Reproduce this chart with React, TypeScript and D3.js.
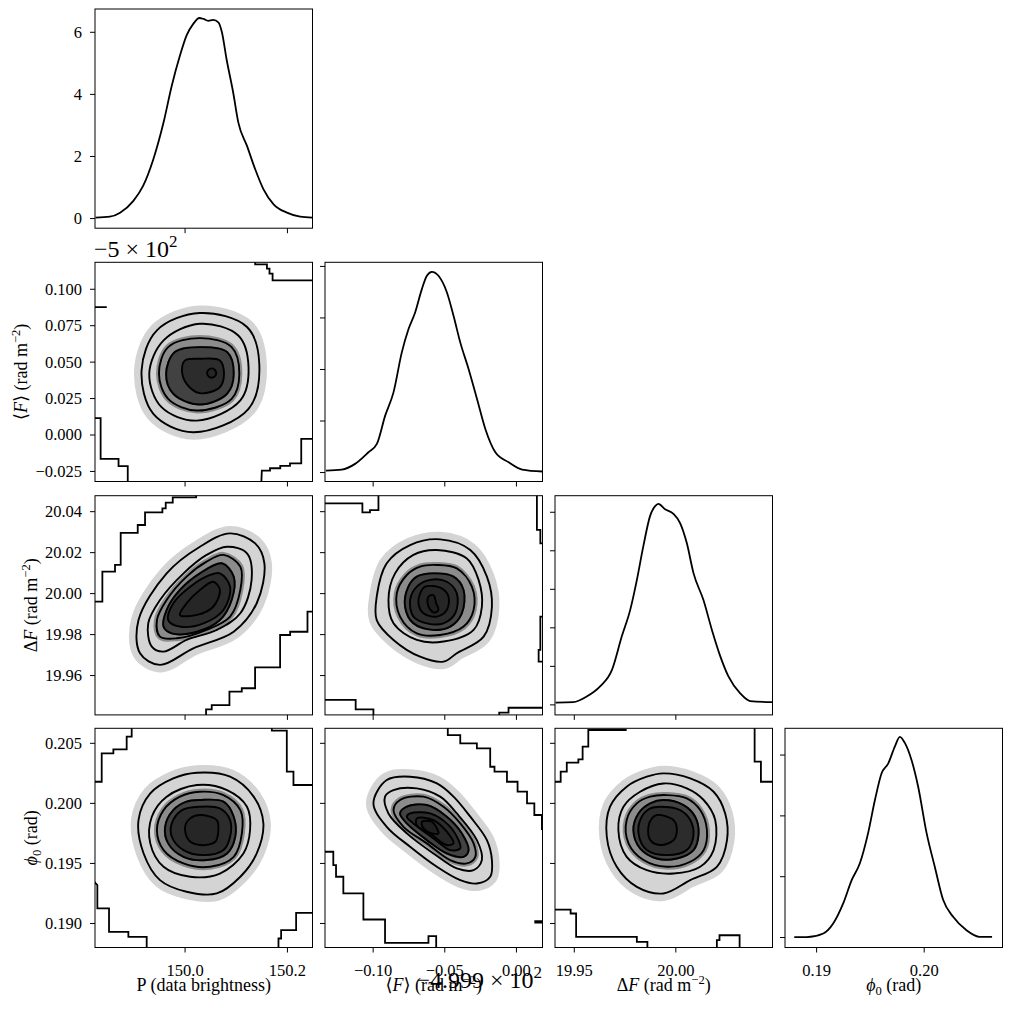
import React from 'react';
import * as d3 from 'd3';

type Pt = [number, number];

// ---------------- grid layout ----------------
const COL_X = [95, 325, 555, 785];
const ROW_Y = [9, 262.3, 495.7, 728.3];
const PW = 217.5;
const PH = 219.2;
const FONT = "Liberation Serif, DejaVu Serif, serif";

// ---------------- axis domains ----------------
// ⟨F⟩ is stored relative to −500 (the offset shown on its y axis)
const P_DOMAIN = [149.824, 150.249];
const F_X_DOMAIN = [-0.0336, 0.1182];
const F_Y_DOMAIN = [-0.0319, 0.1185];
const DF_X_DOMAIN = [19.9405, 20.0476];
const DF_Y_DOMAIN = [19.9408, 20.0478];
const PHI_X_DOMAIN = [0.18706, 0.20728];
const PHI_Y_DOMAIN = [0.188, 0.20625];
const DENS_P_DOMAIN = [-0.31, 6.75];
const DENS_F_DOMAIN = [-0.87, 20.4];
const DENS_DF_DOMAIN = [-1.3, 27.15];
const DENS_PHI_DOMAIN = [-8.2, 172];

// ---------------- ticks ----------------
const P_TICKS = [150.0, 150.2];
const P_TICK_LABELS = ['150.0', '150.2'];
const F_X_TICKS = [0.0, 0.05, 0.1];
const F_X_TICK_LABELS = ['−0.10', '−0.05', '0.00'];
const F_Y_TICKS = [-0.025, 0, 0.025, 0.05, 0.075, 0.1];
const F_Y_TICK_LABELS = ['−0.025', '0.000', '0.025', '0.050', '0.075', '0.100'];
const DF_X_TICKS = [19.95, 20.0];
const DF_X_TICK_LABELS = ['19.95', '20.00'];
const DF_Y_TICKS = [19.96, 19.98, 20.0, 20.02, 20.04];
const DF_Y_TICK_LABELS = ['19.96', '19.98', '20.00', '20.02', '20.04'];
const PHI_X_TICKS = [0.19, 0.2];
const PHI_X_TICK_LABELS = ['0.19', '0.20'];
const PHI_Y_TICKS = [0.19, 0.195, 0.2, 0.205];
const PHI_Y_TICK_LABELS = ['0.190', '0.195', '0.200', '0.205'];
const DENS_P_TICKS = [0, 2, 4, 6];
const DENS_P_TICK_LABELS = ['0', '2', '4', '6'];
const DENS_F_TICKS = [0, 5, 10, 15, 20];
const DENS_DF_TICKS = [0, 5, 10, 15, 20, 25];
const DENS_PHI_TICKS = [0, 50, 100, 150];

// ---------------- 1D marginal densities ----------------
const P_DENS_X = [149.825, 149.853, 149.873, 149.899, 149.918, 149.938, 149.958, 149.974, 149.99, 150.003, 150.016, 150.028, 150.036, 150.045, 150.055, 150.065, 150.072, 150.081, 150.094, 150.104, 150.121, 150.137, 150.153, 150.173, 150.199, 150.225, 150.249];
const P_DENS_Y = [0.03, 0.06, 0.19, 0.57, 1.05, 1.91, 3.1, 4.28, 5.25, 5.9, 6.27, 6.46, 6.43, 6.37, 6.4, 6.32, 6.0, 5.14, 4.06, 3.1, 2.34, 1.59, 0.95, 0.46, 0.19, 0.06, 0.03];

const F_DENS_X = [-0.0329, -0.0219, -0.0126, -0.0033, 0.0026, 0.0084, 0.0142, 0.02, 0.0247, 0.0293, 0.034, 0.0375, 0.041, 0.0456, 0.0515, 0.0561, 0.0608, 0.0666, 0.0725, 0.0783, 0.0853, 0.0946, 0.104, 0.1182];
const F_DENS_Y = [0.19, 0.29, 0.84, 1.97, 2.78, 5.52, 7.78, 11.66, 13.92, 15.53, 17.8, 19.09, 19.48, 19.09, 17.47, 15.21, 12.63, 10.05, 7.14, 4.23, 1.97, 1.0, 0.29, 0.1];

const DF_DENS_X = [19.9408, 19.9495, 19.9561, 19.9627, 19.9685, 19.9734, 19.9775, 19.9808, 19.984, 19.9873, 19.9898, 19.9914, 19.9947, 19.9988, 20.0021, 20.0054, 20.0087, 20.0136, 20.0178, 20.0219, 20.0259, 20.0317, 20.0366, 20.0476];
const DF_DENS_Y = [0.3, 0.35, 1.08, 2.4, 4.5, 8.9, 12.3, 16.2, 20.6, 24.5, 25.8, 26.1, 25.4, 24.8, 23.6, 21.0, 17.1, 13.6, 9.7, 6.3, 3.7, 1.5, 0.5, 0.35];

const PHI_DENS_X = [0.18792, 0.18907, 0.19062, 0.19154, 0.19247, 0.19325, 0.19402, 0.19479, 0.19542, 0.19604, 0.19665, 0.19727, 0.19774, 0.1982, 0.19882, 0.19944, 0.20022, 0.20099, 0.20176, 0.20269, 0.20393, 0.20517, 0.20631];
const PHI_DENS_Y = [0.25, 0.25, 3.3, 11.5, 28, 47, 61, 86, 113, 135, 143, 157, 165, 160, 146, 124, 86, 58, 31, 17, 6, 0.5, 0.5];

// ---------------- 2D contour levels (outermost first) ----------------
const RINGS_P_F: Pt[][] = [
  [[149.915, 0.0443], [149.945, 0.0718], [150.029, 0.0837], [150.121, 0.0741], [150.145, 0.0489], [150.124, 0.018], [150.016, 0.0019], [149.938, 0.0145]],
  [[149.93, 0.042], [149.958, 0.0649], [150.029, 0.0763], [150.104, 0.0683], [150.124, 0.0466], [150.108, 0.0237], [150.023, 0.0099], [149.954, 0.0191]],
  [[149.949, 0.042], [149.967, 0.0603], [150.029, 0.0665], [150.091, 0.0603], [150.106, 0.042], [150.091, 0.0248], [150.023, 0.0168], [149.967, 0.0248]],
  [[149.963, 0.042], [149.98, 0.0569], [150.029, 0.0603], [150.082, 0.0569], [150.095, 0.042], [150.082, 0.0283], [150.029, 0.0209], [149.977, 0.0283]],
  [[149.994, 0.0443], [150.0, 0.0512], [150.029, 0.0523], [150.068, 0.0512], [150.076, 0.042], [150.068, 0.0328], [150.029, 0.0287], [150.003, 0.0351]],
  [[150.061, 0.0425], [150.058, 0.0448], [150.052, 0.0457], [150.046, 0.0448], [150.043, 0.0425], [150.046, 0.0402], [150.052, 0.0393], [150.058, 0.0402]],
];

const RINGS_P_DF: Pt[][] = [
  [[150.088, 20.0294], [150.137, 20.0245], [150.155, 20.0148], [150.14, 19.9953], [150.095, 19.9814], [150.016, 19.9733], [149.951, 19.9652], [149.912, 19.9709], [149.909, 19.9871], [149.964, 20.0099], [150.029, 20.0229]],
  [[150.082, 20.0229], [150.121, 20.0197], [150.13, 20.0067], [150.108, 19.9904], [150.062, 19.9823], [150.003, 19.9774], [149.958, 19.9717], [149.935, 19.9741], [149.928, 19.9855], [149.951, 19.9969], [149.997, 20.0099], [150.042, 20.0189]],
  [[150.075, 20.0189], [150.108, 20.0132], [150.108, 20.0018], [150.088, 19.9888], [150.042, 19.9823], [149.984, 19.9782], [149.951, 19.979], [149.945, 19.9871], [149.964, 19.9969], [150.003, 20.0083], [150.042, 20.0156]],
  [[150.072, 20.0148], [150.095, 20.0083], [150.091, 19.9969], [150.068, 19.9871], [150.023, 19.9814], [149.974, 19.9806], [149.958, 19.9839], [149.964, 19.992], [149.99, 20.0018], [150.029, 20.0099]],
  [[150.068, 20.0099], [150.088, 20.0034], [150.075, 19.992], [150.036, 19.9855], [149.99, 19.9839], [149.967, 19.9871], [149.977, 19.9953], [150.01, 20.0034], [150.049, 20.0091]],
  [[150.055, 20.0058], [150.068, 20.0018], [150.055, 19.9936], [150.023, 19.9896], [149.99, 19.9896], [150.003, 19.9953], [150.029, 20.0018]],
];

const RINGS_F_DF: Pt[][] = [
  [[0.0468, 20.0265], [0.0678, 20.0213], [0.0794, 20.0083], [0.0829, 19.9936], [0.0771, 19.979], [0.0584, 19.9709], [0.0491, 19.9668], [0.0328, 19.9692], [0.0142, 19.9774], [0.0025, 19.9871], [0.0025, 19.9985], [0.0095, 20.0148], [0.0258, 20.0237]],
  [[0.0445, 20.0213], [0.0654, 20.0172], [0.0736, 20.0067], [0.0759, 19.9936], [0.0701, 19.9823], [0.0491, 19.9766], [0.0305, 19.9774], [0.0142, 19.9855], [0.0107, 19.9969], [0.0153, 20.0099], [0.0281, 20.0189]],
  [[0.0445, 20.014], [0.0584, 20.0123], [0.0689, 20.0034], [0.0701, 19.992], [0.0631, 19.9839], [0.0468, 19.9798], [0.0305, 19.9806], [0.0188, 19.9888], [0.0165, 20.0001], [0.0235, 20.0091], [0.0328, 20.0132]],
  [[0.0421, 20.0099], [0.0561, 20.0083], [0.0631, 20.0018], [0.0619, 19.9904], [0.0538, 19.9839], [0.0421, 19.9823], [0.0281, 19.9855], [0.0223, 19.9936], [0.0246, 20.0034], [0.0305, 20.0083]],
  [[0.0398, 20.0067], [0.0514, 20.0058], [0.0584, 20.0001], [0.0573, 19.9904], [0.0491, 19.9855], [0.0375, 19.9855], [0.0281, 19.9888], [0.0258, 19.9969], [0.0305, 20.0034]],
  [[0.0363, 20.0034], [0.0479, 20.0026], [0.0526, 19.9985], [0.0514, 19.992], [0.0445, 19.9888], [0.0351, 19.9904], [0.0316, 19.9953], [0.0328, 20.0001]],
  [[0.0386, 19.9985], [0.0421, 19.9993], [0.044, 19.9953], [0.0456, 19.992], [0.0426, 19.9907], [0.0393, 19.9928], [0.0379, 19.9961]],
];

const RINGS_P_PHI: Pt[][] = [
  [[150.023, 0.20255], [150.088, 0.20222], [150.134, 0.20056], [150.153, 0.19833], [150.14, 0.19583], [150.108, 0.19389], [150.062, 0.1925], [150.003, 0.19264], [149.951, 0.19361], [149.919, 0.19583], [149.909, 0.19861], [149.932, 0.20083], [149.977, 0.20208]],
  [[150.023, 0.20153], [150.082, 0.20111], [150.121, 0.19972], [150.127, 0.19778], [150.114, 0.19583], [150.068, 0.19416], [150.01, 0.19389], [149.958, 0.19472], [149.932, 0.19667], [149.935, 0.19889], [149.964, 0.20056]],
  [[150.029, 0.20097], [150.075, 0.20069], [150.108, 0.19944], [150.111, 0.1975], [150.095, 0.19555], [150.049, 0.19472], [149.997, 0.195], [149.958, 0.19611], [149.945, 0.19778], [149.958, 0.19944], [149.99, 0.20056]],
  [[150.029, 0.20028], [150.075, 0.20014], [150.095, 0.19889], [150.098, 0.19722], [150.082, 0.19583], [150.042, 0.19528], [149.997, 0.19555], [149.967, 0.19667], [149.961, 0.19805], [149.977, 0.19944], [150.003, 0.20014]],
  [[150.029, 0.19972], [150.068, 0.19958], [150.088, 0.19861], [150.088, 0.19722], [150.075, 0.19611], [150.036, 0.19569], [149.997, 0.19611], [149.974, 0.19722], [149.974, 0.19833], [149.994, 0.19944]],
  [[150.029, 0.19903], [150.062, 0.19861], [150.065, 0.19778], [150.059, 0.1968], [150.029, 0.19653], [150.007, 0.19694], [150.0, 0.19805], [150.01, 0.19875]],
];

const RINGS_F_PHI: Pt[][] = [
  [[0.0095, 0.20194], [0.0258, 0.20222], [0.0445, 0.20166], [0.0561, 0.20056], [0.0678, 0.19889], [0.0794, 0.19694], [0.0829, 0.19528], [0.0817, 0.19389], [0.0724, 0.19333], [0.0608, 0.19361], [0.0445, 0.19472], [0.0258, 0.19639], [0.0095, 0.19805], [0.0002, 0.2]],
  [[0.0142, 0.20111], [0.0305, 0.20125], [0.0468, 0.20056], [0.0584, 0.19916], [0.0724, 0.19694], [0.0759, 0.19528], [0.0701, 0.19444], [0.0584, 0.19458], [0.0421, 0.19583], [0.0235, 0.1975], [0.0107, 0.19916], [0.0083, 0.20056]],
  [[0.0188, 0.20028], [0.0351, 0.20056], [0.0491, 0.19972], [0.0608, 0.19833], [0.0701, 0.19667], [0.0713, 0.19555], [0.0654, 0.195], [0.0538, 0.19528], [0.0375, 0.19667], [0.0212, 0.19805], [0.0142, 0.19944]],
  [[0.0235, 0.19972], [0.0375, 0.19986], [0.0514, 0.19889], [0.0619, 0.1975], [0.0666, 0.19611], [0.0631, 0.19555], [0.0514, 0.19583], [0.0375, 0.19694], [0.0235, 0.19833], [0.0188, 0.19916]],
  [[0.0258, 0.19916], [0.0398, 0.19916], [0.0526, 0.19819], [0.0596, 0.19694], [0.0608, 0.19625], [0.0538, 0.19611], [0.0421, 0.19708], [0.0281, 0.19833], [0.0235, 0.19889]],
  [[0.0305, 0.19875], [0.0421, 0.19861], [0.0514, 0.19764], [0.0561, 0.19667], [0.0514, 0.19653], [0.041, 0.19736], [0.0305, 0.19819]],
  [[0.034, 0.19847], [0.041, 0.19847], [0.0445, 0.19791], [0.0456, 0.1975], [0.041, 0.1975], [0.0363, 0.19778], [0.034, 0.19819]],
];

const RINGS_DF_PHI: Pt[][] = [
  [[19.9939, 0.2025], [20.0071, 0.20208], [20.0186, 0.20097], [20.0243, 0.19916], [20.0252, 0.19694], [20.0202, 0.19472], [20.0071, 0.19361], [19.9939, 0.1925], [19.9808, 0.19305], [19.9709, 0.19472], [19.966, 0.19722], [19.9676, 0.19972], [19.9758, 0.20139], [19.9857, 0.20222]],
  [[19.9939, 0.20166], [20.0054, 0.20125], [20.0137, 0.20028], [20.0194, 0.19861], [20.0186, 0.19611], [20.012, 0.19472], [19.9989, 0.19416], [19.9857, 0.19444], [19.9758, 0.19555], [19.9717, 0.19778], [19.9742, 0.19972], [19.9824, 0.20097]],
  [[19.9956, 0.20069], [20.0054, 0.20042], [20.012, 0.19944], [20.0153, 0.19778], [20.0137, 0.19611], [20.0071, 0.19514], [19.9956, 0.19472], [19.9841, 0.19528], [19.9767, 0.19667], [19.9758, 0.19861], [19.9808, 0.2], [19.9874, 0.20056]],
  [[19.9939, 0.20028], [20.0038, 0.19986], [20.0095, 0.19889], [20.0112, 0.1975], [20.0087, 0.19611], [20.0005, 0.19541], [19.9906, 0.19541], [19.9824, 0.19625], [19.9791, 0.19778], [19.9816, 0.19916], [19.9874, 0.2]],
  [[19.9923, 0.19972], [20.0021, 0.19944], [20.0071, 0.19861], [20.0087, 0.19736], [20.0054, 0.19611], [19.9956, 0.19569], [19.9857, 0.19611], [19.9816, 0.1975], [19.9832, 0.19889], [19.9874, 0.19958]],
  [[19.9906, 0.19903], [19.9989, 0.19861], [20.0005, 0.19778], [19.9989, 0.19694], [19.9923, 0.19653], [19.9874, 0.19694], [19.9865, 0.19805], [19.9882, 0.19875]],
];

// ---------------- lowest-level histogram outlines (stepped) ----------------
const STEPS_P_F: Pt[][] = [
  [[150.137, 0.119], [150.137, 0.1171], [150.16, 0.1171], [150.16, 0.1141], [150.165, 0.1141], [150.165, 0.1107], [150.171, 0.1107], [150.171, 0.1061], [150.25, 0.1061]],
  [[149.82, 0.0878], [149.847, 0.0878]],
  [[149.82, 0.0116], [149.835, 0.0116], [149.835, -0.0164], [149.87, -0.0164], [149.87, -0.0214], [149.888, -0.0214], [149.888, -0.033]],
  [[150.149, -0.033], [150.15, -0.0244], [150.166, -0.0244], [150.166, -0.0228], [150.186, -0.0228], [150.186, -0.0212], [150.205, -0.0212], [150.205, -0.0194], [150.227, -0.0194], [150.227, -0.0026], [150.25, -0.0026]],
];
const STEPS_P_DF: Pt[][] = [
  [[149.82, 19.9961], [149.8384, 19.9961], [149.8384, 20.0107], [149.8631, 20.0107], [149.8631, 20.014], [149.8742, 20.014], [149.8742, 20.0297], [149.9075, 20.0297], [149.9075, 20.0335], [149.9218, 20.0335], [149.9218, 20.0397], [149.9557, 20.0397], [149.9557, 20.0416], [149.9622, 20.0416], [149.9622, 20.0444], [149.9759, 20.0444], [149.9759, 20.047], [150.0215, 20.047], [150.0215, 20.049]],
  [[150.25, 19.9912], [150.2392, 19.9912], [150.2392, 19.9814], [150.2053, 19.9814], [150.2053, 19.9798], [150.1857, 19.9798], [150.1857, 19.964], [150.1368, 19.964], [150.1368, 19.9538], [150.1108, 19.9538], [150.1108, 19.9522], [150.0867, 19.9522], [150.0867, 19.9456], [150.0521, 19.9456], [150.0521, 19.9435], [150.041, 19.9435], [150.041, 19.94]],
];
const STEPS_F_DF: Pt[][] = [
  [[-0.034, 20.0441], [-0.0075, 20.0441], [-0.0075, 20.0397], [-0.0022, 20.0397], [-0.0022, 20.0408], [0.0037, 20.0408], [0.0037, 20.049]],
  [[0.1143, 20.049], [0.1143, 20.0311], [0.1167, 20.0311], [0.1167, 20.0245], [0.119, 20.0245]],
  [[0.119, 19.9888], [0.1167, 19.9888], [0.1167, 19.9725], [0.1155, 19.9725], [0.1155, 19.9668], [0.119, 19.9668]],
  [[-0.034, 19.9481], [-0.0122, 19.9481], [-0.0122, 19.9435], [0.0002, 19.9435], [0.0002, 19.94]],
  [[0.088, 19.94], [0.088, 19.9419], [0.0945, 19.9419], [0.0945, 19.9443], [0.119, 19.9443]],
];
const STEPS_P_PHI: Pt[][] = [
  [[149.82, 0.2018], [149.8371, 0.2018], [149.8371, 0.20416], [149.8599, 0.20416], [149.8599, 0.2045], [149.8859, 0.2045], [149.8859, 0.20555], [149.8957, 0.20555], [149.8957, 0.2065]],
  [[150.1695, 0.2065], [150.1695, 0.20605], [150.1988, 0.20605], [150.1988, 0.20264], [150.2118, 0.20264], [150.2118, 0.20153], [150.25, 0.20153]],
  [[149.82, 0.1936], [149.8286, 0.19319], [149.8286, 0.19125], [149.8514, 0.19125], [149.8514, 0.1893], [149.8892, 0.1893], [149.8892, 0.18889], [149.925, 0.18889], [149.925, 0.1878]],
  [[150.1825, 0.1878], [150.1825, 0.18875], [150.1877, 0.18875], [150.1877, 0.18944], [150.217, 0.18944], [150.217, 0.19088], [150.25, 0.19088]],
];
const STEPS_F_PHI: Pt[][] = [
  [[0.0521, 0.2065], [0.0521, 0.20569], [0.0608, 0.20569], [0.0608, 0.205], [0.0724, 0.205], [0.0724, 0.20458], [0.0817, 0.20458], [0.0817, 0.20305], [0.0847, 0.20305], [0.0847, 0.20264], [0.0934, 0.20264], [0.0934, 0.2018], [0.1008, 0.2018], [0.1008, 0.20097], [0.1074, 0.20097], [0.1074, 0.2], [0.1125, 0.2], [0.1125, 0.19903], [0.1178, 0.19903], [0.1178, 0.19778]],
  [[-0.034, 0.19597], [-0.0278, 0.19597], [-0.0278, 0.19486], [-0.0259, 0.19486], [-0.0259, 0.19389], [-0.0208, 0.19389], [-0.0208, 0.1925], [-0.0068, 0.1925], [-0.0068, 0.19033], [0.0083, 0.19033], [0.0083, 0.18839], [0.0386, 0.18839], [0.0386, 0.18894], [0.044, 0.18894], [0.044, 0.1878]],
  [[0.1125, 0.19014], [0.119, 0.19014]],
];
const STEPS_DF_PHI: Pt[][] = [
  [[19.94, 0.2018], [19.9433, 0.2018], [19.9433, 0.20264], [19.9463, 0.20264], [19.9463, 0.20339], [19.952, 0.20339], [19.952, 0.20366], [19.9541, 0.20366], [19.9541, 0.20472], [19.9569, 0.20472], [19.9569, 0.20611], [19.9758, 0.20611]],
  [[20.0388, 0.2065], [20.0388, 0.20347], [20.0419, 0.20347], [20.0419, 0.2018], [20.049, 0.2018]],
  [[19.94, 0.19116], [19.9482, 0.19116], [19.9482, 0.19083], [19.9509, 0.19083], [19.9509, 0.18889], [19.9808, 0.18889], [19.9808, 0.18847], [19.986, 0.18847], [19.986, 0.1878]],
  [[20.0202, 0.1878], [20.0202, 0.18861], [20.0215, 0.18861], [20.0215, 0.18902], [20.0314, 0.18902], [20.0314, 0.1878]],
];

// grey shades of the filled levels, by ring index (null = no new fill)
const SHADES: (string | null)[] = ['#d4d4d4', null, '#8c8c8c', '#424242', '#2c2c2c', '#262626', '#202020'];
const SPREAD = [15, 0, 6, 2, 1, 1, 1];

const supF = (size: number) => (
  <>
    <tspan>⟨</tspan>
    <tspan fontStyle="italic">F</tspan>
    <tspan>⟩ (rad m</tspan>
    <tspan dy={-7} fontSize={size * 0.7}>−2</tspan>
    <tspan dy={7}>)</tspan>
  </>
);
const supDF = (size: number) => (
  <>
    <tspan>Δ</tspan>
    <tspan fontStyle="italic">F</tspan>
    <tspan> (rad m</tspan>
    <tspan dy={-7} fontSize={size * 0.7}>−2</tspan>
    <tspan dy={7}>)</tspan>
  </>
);
const supPhi = (size: number) => (
  <>
    <tspan fontStyle="italic">ϕ</tspan>
    <tspan dy={4} fontSize={size * 0.7}>0</tspan>
    <tspan dy={-4}> (rad)</tspan>
  </>
);

export default function App() {
  const sx = (col: number, dom: number[]) =>
    d3.scaleLinear().domain(dom).range([COL_X[col], COL_X[col] + PW]);
  const sy = (row: number, dom: number[]) =>
    d3.scaleLinear().domain(dom).range([ROW_Y[row] + PH, ROW_Y[row]]);

  const xP = sx(0, P_DOMAIN);
  const xF = sx(1, F_X_DOMAIN);
  const xDF = sx(2, DF_X_DOMAIN);
  const xPhi = sx(3, PHI_X_DOMAIN);
  const yF = sy(1, F_Y_DOMAIN);
  const yDF = sy(2, DF_Y_DOMAIN);
  const yPhi = sy(3, PHI_Y_DOMAIN);

  const colScale = [xP, xF, xDF, xPhi];
  const colTicks = [P_TICKS, F_X_TICKS, DF_X_TICKS, PHI_X_TICKS];
  const colTickLabels = [P_TICK_LABELS, F_X_TICK_LABELS, DF_X_TICK_LABELS, PHI_X_TICK_LABELS];
  const rowScale = [null, yF, yDF, yPhi];
  const rowTicks = [null, F_Y_TICKS, DF_Y_TICKS, PHI_Y_TICKS];
  const rowTickLabels = [null, F_Y_TICK_LABELS, DF_Y_TICK_LABELS, PHI_Y_TICK_LABELS];

  const diagonals = [
    { i: 0, ys: sy(0, DENS_P_DOMAIN), xv: P_DENS_X, yv: P_DENS_Y, ticks: DENS_P_TICKS, labels: DENS_P_TICK_LABELS },
    { i: 1, ys: sy(1, DENS_F_DOMAIN), xv: F_DENS_X, yv: F_DENS_Y, ticks: DENS_F_TICKS, labels: null },
    { i: 2, ys: sy(2, DENS_DF_DOMAIN), xv: DF_DENS_X, yv: DF_DENS_Y, ticks: DENS_DF_TICKS, labels: null },
    { i: 3, ys: sy(3, DENS_PHI_DOMAIN), xv: PHI_DENS_X, yv: PHI_DENS_Y, ticks: DENS_PHI_TICKS, labels: null },
  ];

  const joints = [
    { row: 1, col: 0, rings: RINGS_P_F, steps: STEPS_P_F },
    { row: 2, col: 0, rings: RINGS_P_DF, steps: STEPS_P_DF },
    { row: 2, col: 1, rings: RINGS_F_DF, steps: STEPS_F_DF },
    { row: 3, col: 0, rings: RINGS_P_PHI, steps: STEPS_P_PHI },
    { row: 3, col: 1, rings: RINGS_F_PHI, steps: STEPS_F_PHI },
    { row: 3, col: 2, rings: RINGS_DF_PHI, steps: STEPS_DF_PHI },
  ];

  const tickFont = 16.5;
  const labelFont = 18;
  const txt = { fontFamily: FONT };

  const axes = (row: number, col: number, ys: any, yT: number[], yL: string[] | null) => {
    const xs = colScale[col];
    const bottom = ROW_Y[row] + PH;
    const left = COL_X[col];
    return (
      <g>
        <rect x={left} y={ROW_Y[row]} width={PW} height={PH} fill="none" stroke="#000" strokeWidth={1} />
        {colTicks[col].map((t, k) => (
          <g key={'xt' + k}>
            <line x1={xs(t)} x2={xs(t)} y1={bottom} y2={bottom + 5} stroke="#000" strokeWidth={1} />
            {row === 3 && (
              <text x={xs(t)} y={bottom + 28} textAnchor="middle" fontSize={tickFont} style={txt}>
                {colTickLabels[col][k]}
              </text>
            )}
          </g>
        ))}
        {yT.map((t, k) => (
          <g key={'yt' + k}>
            <line x1={left - 5} x2={left} y1={ys(t)} y2={ys(t)} stroke="#000" strokeWidth={1} />
            {col === 0 && yL && (
              <text x={left - 13} y={ys(t)} dy="0.33em" textAnchor="end" fontSize={tickFont} style={txt}>
                {yL[k]}
              </text>
            )}
          </g>
        ))}
      </g>
    );
  };

  return (
    <svg width={1011} height={1011} style={{ position: 'absolute', left: 0, top: 0, background: '#fff' }}>
      <rect x={0} y={0} width={1011} height={1011} fill="#fff" />
      <defs>
        {[0, 1, 2, 3].map((r) =>
          [0, 1, 2, 3].map((c) => (
            <clipPath id={`clip-${r}-${c}`} key={`${r}-${c}`}>
              <rect x={COL_X[c]} y={ROW_Y[r]} width={PW} height={PH} />
            </clipPath>
          ))
        )}
      </defs>

      {joints.map((p) => {
        const xs = colScale[p.col];
        const ys = rowScale[p.row] as any;
        const ring = d3
          .line<Pt>()
          .x((d) => xs(d[0]))
          .y((d) => ys(d[1]))
          .curve(d3.curveCatmullRomClosed.alpha(0.5));
        const step = d3
          .line<Pt>()
          .x((d) => xs(d[0]))
          .y((d) => ys(d[1]));
        return (
          <g key={`j-${p.row}-${p.col}`}>
            <g clipPath={`url(#clip-${p.row}-${p.col})`}>
              {p.rings.map((r, k) =>
                SHADES[k] ? (
                  <path
                    key={'f' + k}
                    d={ring(r) || ''}
                    fill={SHADES[k] as string}
                    stroke={SHADES[k] as string}
                    strokeWidth={SPREAD[k]}
                    strokeLinejoin="round"
                  />
                ) : null
              )}
              {p.rings.map((r, k) => (
                <path key={'l' + k} d={ring(r) || ''} fill="none" stroke="#000" strokeWidth={1.9} />
              ))}
              {p.steps.map((s, k) => (
                <path
                  key={'s' + k}
                  d={step(s) || ''}
                  fill="none"
                  stroke="#000"
                  strokeWidth={s.length === 2 && p.row === 3 && p.col === 1 ? 3.2 : 1.8}
                />
              ))}
            </g>
            {axes(p.row, p.col, ys, rowTicks[p.row] as number[], rowTickLabels[p.row] as string[])}
          </g>
        );
      })}

      {diagonals.map((d) => {
        const xs = colScale[d.i];
        const pts: Pt[] = d.xv.map((v, k) => [v, d.yv[k]]);
        const curve = d3
          .line<Pt>()
          .x((q) => xs(q[0]))
          .y((q) => d.ys(q[1]))
          .curve(d3.curveMonotoneX);
        return (
          <g key={'d' + d.i}>
            <g clipPath={`url(#clip-${d.i}-${d.i})`}>
              <path d={curve(pts) || ''} fill="none" stroke="#000" strokeWidth={1.8} />
            </g>
            {axes(d.i, d.i, d.ys, d.ticks, d.labels)}
          </g>
        );
      })}

      {/* axis offsets */}
      <text x={94} y={257} fontSize={24} style={txt}>
        −5 × 10<tspan dy={-10} fontSize={17}>2</tspan>
      </text>
      <text x={542} y={988} textAnchor="end" fontSize={24} style={txt}>
        −4.999 × 10<tspan dy={-10} fontSize={17}>2</tspan>
      </text>

      {/* x axis labels */}
      <text x={COL_X[0] + PW / 2} y={991} textAnchor="middle" fontSize={labelFont} style={txt}>
        P (data brightness)
      </text>
      <text x={COL_X[1] + PW / 2} y={991} textAnchor="middle" fontSize={labelFont} style={txt}>
        {supF(labelFont)}
      </text>
      <text x={COL_X[2] + PW / 2} y={991} textAnchor="middle" fontSize={labelFont} style={txt}>
        {supDF(labelFont)}
      </text>
      <text x={COL_X[3] + PW / 2} y={991} textAnchor="middle" fontSize={labelFont} style={txt}>
        {supPhi(labelFont)}
      </text>

      {/* y axis labels */}
      <text transform={`translate(27,${ROW_Y[1] + PH / 2}) rotate(-90)`} textAnchor="middle" fontSize={labelFont} style={txt}>
        {supF(labelFont)}
      </text>
      <text transform={`translate(37,${ROW_Y[2] + PH / 2}) rotate(-90)`} textAnchor="middle" fontSize={labelFont} style={txt}>
        {supDF(labelFont)}
      </text>
      <text transform={`translate(37,${ROW_Y[3] + PH / 2}) rotate(-90)`} textAnchor="middle" fontSize={labelFont} style={txt}>
        {supPhi(labelFont)}
      </text>
    </svg>
  );
}
